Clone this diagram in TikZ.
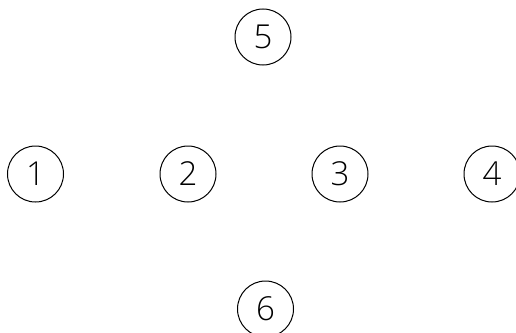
\documentclass[tikz,border=0pt]{standalone}
\usepackage{fontspec}
\setmainfont{Open Sans}[UprightFont=* Light]
\begin{document}
\begin{tikzpicture}[x=1pt,y=-1pt,
  vertex/.style={circle,draw=black,line width=1pt,minimum size=56pt,inner sep=0pt,font=\fontsize{33}{33}\selectfont}]
\useasboundingbox (0,0) rectangle (516,332);
\node[vertex] (n1) at (35.5,174) {1};
\node[vertex] (n2) at (188,174) {2};
\node[vertex] (n3) at (340,174) {3};
\node[vertex] (n4) at (492,174) {4};
\node[vertex] (n5) at (263,37) {5};
\node[vertex] (n6) at (265.5,309) {6};
\end{tikzpicture}
\end{document}
